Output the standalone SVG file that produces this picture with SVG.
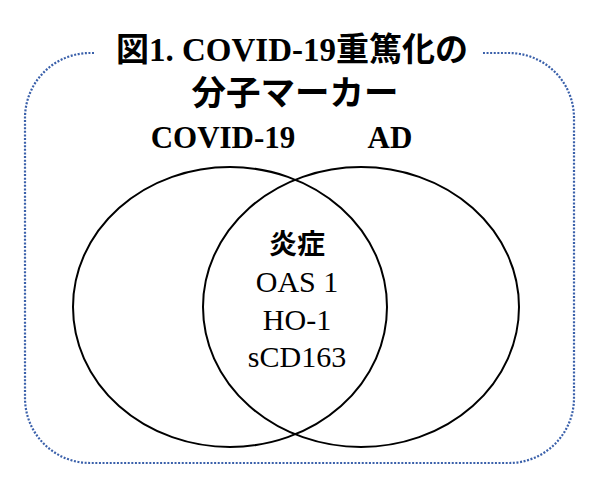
<svg xmlns="http://www.w3.org/2000/svg" width="600" height="487" viewBox="0 0 600 487">
<style>
.frame{fill:none;stroke:#3A60AA;stroke-width:2.2;stroke-dasharray:2 1.6}
.set{fill:none;stroke:#000;stroke-width:2}
.title{font-family:"Liberation Serif","Noto Sans CJK JP",serif;font-weight:bold;font-size:33px;fill:#000;text-anchor:middle}
.lbl{font-family:"Liberation Serif","Noto Sans CJK JP",serif;font-weight:bold;font-size:31px;fill:#000;text-anchor:middle}
.item{font-family:"Liberation Serif","Noto Sans CJK JP",serif;font-size:30px;fill:#000;text-anchor:middle}
.itemb{font-family:"Liberation Serif","Noto Sans CJK JP",serif;font-weight:bold;font-size:28px;fill:#000;text-anchor:middle}
</style>
<rect width="600" height="487" fill="#fff"/>
<g id="frame">
<path class="frame" d="M94,53 H90 A65,65 0 0 0 25,118 V398 A65,65 0 0 0 90,463 H509 A65,65 0 0 0 574,398 V118 A65,65 0 0 0 509,53 H483"/>
</g>
<g id="title">
<text class="title" x="292" y="61">図1. COVID-19重篤化の</text>
<text class="title" x="295" y="105" style="font-size:34.5px">分子マーカー</text>
</g>
<g id="covid">
<ellipse class="set" cx="230" cy="307" rx="157" ry="140"/>
<text class="lbl" x="223" y="148">COVID-19</text>
</g>
<g id="ad">
<ellipse class="set" cx="361" cy="307" rx="158" ry="140"/>
<text class="lbl" x="390" y="148">AD</text>
</g>
<g id="overlap">
<text class="itemb" x="297" y="254">炎症</text>
<text class="item" x="297" y="292">OAS 1</text>
<text class="item" x="297" y="330">HO-1</text>
<text class="item" x="297" y="367">sCD163</text>
</g>
</svg>
